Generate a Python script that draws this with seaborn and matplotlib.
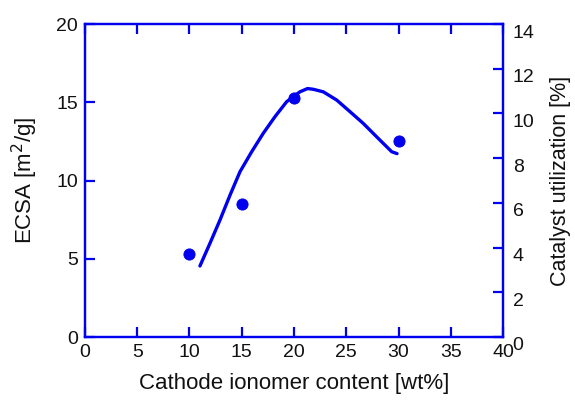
import matplotlib
matplotlib.use("Agg")
import matplotlib.pyplot as plt
import matplotlib.transforms as mtransforms
import seaborn as sns
import pandas as pd

# data
ionomer_pts = [10, 15, 20, 30]
ecsa_pts = [5.3, 8.5, 15.3, 12.5]
fit_x = [11.0, 11.96, 12.92, 13.88, 14.83, 15.95, 17.06, 18.18, 19.3, 20.57,
         21.3, 21.85, 22.8, 24.09, 25.36, 26.63, 27.9, 29.35, 29.86]
fit_y = [4.54, 5.99, 7.48, 9.07, 10.56, 11.84, 13.02, 14.08, 15.04, 15.67,
         15.88, 15.83, 15.67, 15.14, 14.4, 13.65, 12.8, 11.84, 11.72]
x_ticks = [0, 5, 10, 15, 20, 25, 30, 35, 40]
left_ticks = [0, 5, 10, 15, 20]
right_ticks = [0, 2, 4, 6, 8, 10, 12, 14]

sns.set_style("white")
plt.rcParams['font.family'] = ['Liberation Sans', 'DejaVu Sans']
plt.rcParams['text.color'] = '#111111'
plt.rcParams['axes.labelcolor'] = '#111111'
plt.rcParams['xtick.color'] = '#111111'
plt.rcParams['ytick.color'] = '#111111'

BLUE = "#0000ee"
fig = plt.figure(figsize=(5.75, 4.01), dpi=100)
ax = fig.add_axes([0.1478, 0.1596, 0.727, 0.7804])

pts = pd.DataFrame({"x": ionomer_pts, "y": ecsa_pts})
fit = pd.DataFrame({"x": fit_x, "y": fit_y})
sns.lineplot(data=fit, x="x", y="y", ax=ax, color=BLUE, linewidth=2.4, sort=False)
sns.scatterplot(data=pts, x="x", y="y", ax=ax, color=BLUE, s=65, edgecolor=BLUE, zorder=3)

ax.set_xlim(0, 40)
ax.set_ylim(0, 20)
ax.set_xticks(x_ticks)
ax.set_yticks(left_ticks)
ax.set_xlabel("Cathode ionomer content [wt%]", fontsize=16, labelpad=9)
ax.set_ylabel("ECSA [m$^2$/g]", fontsize=16, labelpad=12)

ax2 = ax.twinx()
ax2.set_ylim(0, 14)
ax2.set_yticks(right_ticks)
ax2.set_ylabel("Catalyst utilization [%]", fontsize=15.5, labelpad=11)

for a in (ax, ax2):
    for s in a.spines.values():
        s.set_color(BLUE)
        s.set_linewidth(1.6)
        s.set_visible(True)
ax.tick_params(axis="x", direction="in", length=7, width=1.6, color=BLUE,
               labelsize=14, top=True, bottom=True, pad=5)
ax.tick_params(axis="y", direction="in", length=7, width=1.6, color=BLUE,
               labelsize=14, left=True, right=False, pad=5)
ax2.tick_params(axis="y", direction="in", length=7, width=1.6, color=BLUE,
                labelsize=14, right=True, left=False, pad=7)

shift = mtransforms.ScaledTranslation(0, -5 / 72, fig.dpi_scale_trans)
for lbl in ax2.get_yticklabels():
    lbl.set_transform(lbl.get_transform() + shift)

fig.savefig("out.png", dpi=100)
